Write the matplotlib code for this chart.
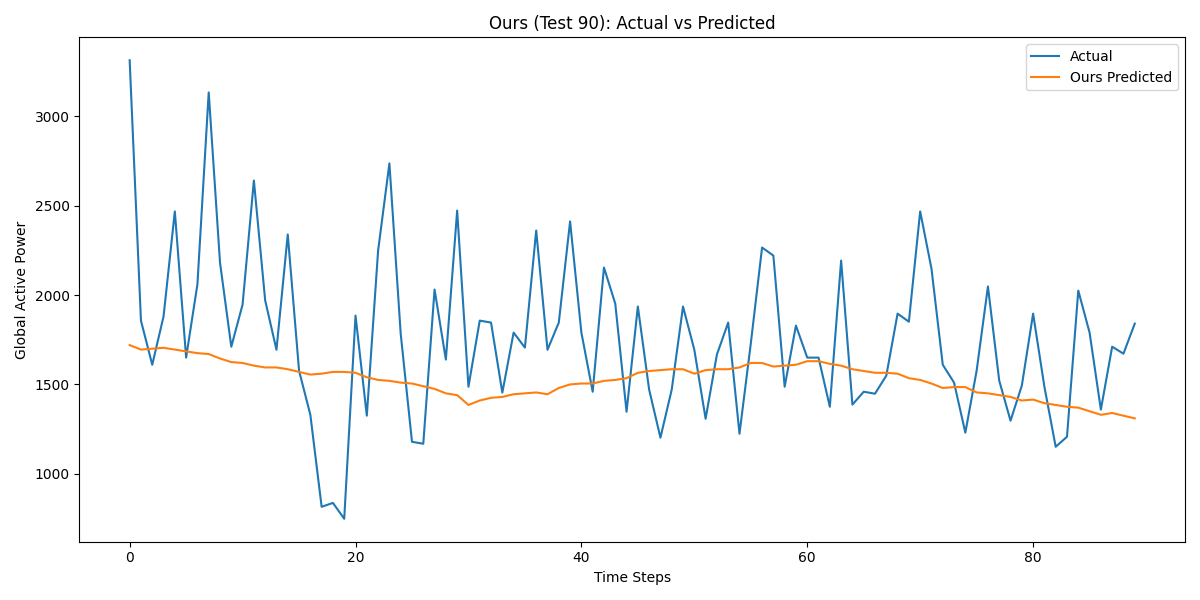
import matplotlib
matplotlib.use("Agg")
import matplotlib.pyplot as plt
import numpy as np

actual = [3314, 1857, 1610, 1880, 2468, 1650, 2060, 3134, 2182, 1711,
          1947, 2641, 1970, 1694, 2339, 1577, 1330, 815, 837, 748,
          1885, 1325, 2249, 2737, 1784, 1179, 1168, 2031, 1639, 2473,
          1487, 1857, 1846, 1454, 1790, 1706, 2361, 1694, 1846, 2412,
          1790, 1459, 2154, 1952, 1347, 1936, 1471, 1202, 1471, 1936,
          1694, 1308, 1667, 1846, 1224, 1728, 2266, 2221, 1487, 1829,
          1650, 1650, 1375, 2193, 1387, 1459, 1448, 1549, 1896, 1851,
          2468, 2148, 1610, 1510, 1230, 1577, 2048, 1521, 1297, 1493,
          1896, 1487, 1151, 1207, 2025, 1790, 1359, 1711, 1672, 1840]
predicted = [1720, 1695, 1700, 1705, 1695, 1685, 1675, 1670, 1645, 1625,
             1620, 1605, 1595, 1595, 1585, 1570, 1555, 1560, 1570, 1570,
             1565, 1540, 1525, 1520, 1510, 1505, 1490, 1475, 1450, 1440,
             1385, 1410, 1425, 1430, 1445, 1450, 1455, 1445, 1480, 1500,
             1505, 1505, 1520, 1525, 1535, 1565, 1575, 1580, 1585, 1585,
             1560, 1580, 1585, 1585, 1595, 1620, 1620, 1600, 1605, 1610,
             1630, 1630, 1615, 1605, 1585, 1575, 1565, 1565, 1560, 1535,
             1525, 1505, 1480, 1485, 1485, 1455, 1450, 1440, 1430, 1410,
             1415, 1395, 1385, 1375, 1370, 1350, 1330, 1340, 1325, 1310]

steps = np.arange(len(actual))

fig, ax = plt.subplots(figsize=(12, 6), dpi=100)
ax.plot(steps, actual, label="Actual")
ax.plot(steps, predicted, label="Ours Predicted")
ax.set_title("Ours (Test 90): Actual vs Predicted")
ax.set_xlabel("Time Steps")
ax.set_ylabel("Global Active Power")
ax.legend(loc="upper right")
fig.tight_layout()
fig.savefig("out.png")
